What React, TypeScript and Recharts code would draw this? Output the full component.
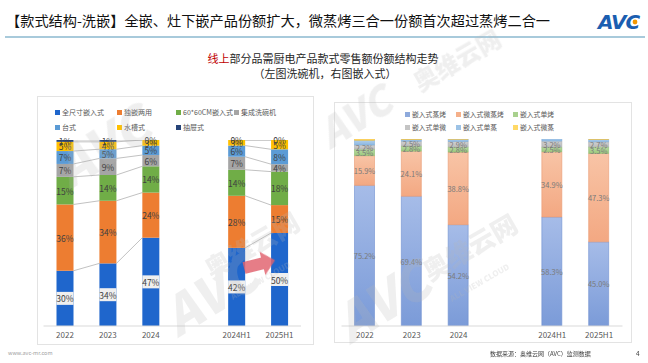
import React from "react";
import { BarChart, Bar, XAxis, YAxis, LabelList, Legend } from "recharts";

// ---------- data ----------
const categories = ["2022", "2023", "2024", "", "2024H1", "2025H1"];

// Left chart: dishwasher styles (bottom -> top)
const leftSeriesNames = ["全尺寸嵌入式", "独嵌两用", "60*60CM嵌入式", "集成洗碗机", "台式", "水槽式", "抽屉式"];
const leftColors = ["#1F66CC", "#ED7D31", "#70AD47", "#A5A5A5", "#5B9BD5", "#FFC000", "#264478"];
const fullSizeShare = [30, 34, 47, null, 42, 50];
const dualUseShare = [36, 34, 24, null, 28, 15];
const size6060Share = [15, 14, 14, null, 14, 18];
const integratedShare = [7, 9, 6, null, 7, 4];
const countertopShare = [7, 5, 5, null, 6, 8];
const sinkShare = [5, 4, 3, null, 3, 5];
const drawerShare = [1, 1, 0, null, 0, 0];

// Right chart: built-in styles (bottom -> top)
const rightSeriesNames = ["嵌入式蒸烤", "嵌入式微蒸烤", "嵌入式单烤", "嵌入式单微", "嵌入式单蒸", "嵌入式微蒸"];
const rightColors = ["#8EAADC", "#F5B08A", "#A9D18E", "#C4C4C4", "#9DC3E6", "#FFD966"];
const rightGradTop = ["#A6BCE8", "#F8C4A6", "#B8DAA0", "#D0D0D0", "#AECDEA", "#FFE08A"];
const rightGradBottom = ["#7B9BD8", "#F3A882", "#9CC97E", "#BDBDBD", "#8EB9E2", "#FFD24D"];
const rightStroke = ["#6E8FD0", "#E99A72", "#8DBB70", "#AFAFAF", "#7FAEDB", "#F0C040"];
const steamBakeShare = [75.2, 69.4, 54.2, null, 58.3, 45.0];
const microSteamBakeShare = [15.9, 24.1, 38.8, null, 34.9, 47.3];
const singleBakeShare = [3.5, 2.8, 2.8, null, 2.5, 3.5];
const singleMicroShare = [2.2, 2.5, 2.9, null, 3.2, 2.7];
const singleSteamShare = [2.5, 1.0, 1.2, null, 1.1, 1.3];
const microSteamShare = [0.7, 0.2, 0.1, null, 0.0, 0.2];

const leftValues = [fullSizeShare, dualUseShare, size6060Share, integratedShare, countertopShare, sinkShare, drawerShare];
const rightValues = [steamBakeShare, microSteamBakeShare, singleBakeShare, singleMicroShare, singleSteamShare, microSteamShare];

// ---------- table building ----------
function buildRows(values: (number | null)[][]) {
  return categories.map((name, i) => {
    const row: any = { name };
    if (name === "") return row;
    const total = values.reduce((s, arr) => s + (arr[i] ?? 0), 0);
    values.forEach((arr, k) => {
      row["s" + k] = ((arr[i] ?? 0) / total) * 100;
      row["l" + k] = arr[i];
    });
    return row;
  });
}
const leftRows = buildRows(leftValues);
const rightRows = buildRows(rightValues);

// cumulative tops (normalized) for series lines
const leftCum = leftValues.map((_, k) =>
  leftRows.map((r) => {
    if (r.name === "") return 0;
    let s = 0;
    for (let j = 0; j <= k; j++) s += r["s" + j];
    return s;
  })
);

// ---------- layout ----------
const FONT = '"Noto Sans CJK SC", "Noto Sans", sans-serif';

const L_BOX = { left: 37, top: 96, width: 277, height: 249 };
const L_MARGIN = { top: 44, right: 13, left: 6.5, bottom: 3 };
const L_XAXIS_H = 16;
const L_PLOT_W = L_BOX.width - L_MARGIN.left - L_MARGIN.right;
const L_PLOT_H = L_BOX.height - L_MARGIN.top - L_MARGIN.bottom - L_XAXIS_H;
const L_STEP = L_PLOT_W / categories.length;
const L_PPU = L_PLOT_H / 100;

const R_BOX = { left: 334, top: 102, width: 298, height: 241 };
const R_MARGIN = { top: 37, right: 9.5, left: 7.5, bottom: 2 };
const R_XAXIS_H = 15;

// ---------- custom renderers ----------
const leftShape = (k: number) => (props: any) => {
  const { x, y, width, height, fill } = props;
  let idx = props.index;
  if (idx == null && props.payload) idx = categories.indexOf(props.payload.name);
  if (x == null || y == null || isNaN(x) || isNaN(y) || categories[idx] === "") return <g />;
  const nextOk = idx + 1 < categories.length && categories[idx + 1] !== "";
  let line = null;
  if (nextOk) {
    const dy = (leftCum[k][idx] - leftCum[k][idx + 1]) * L_PPU;
    line = (
      <line x1={x + width} y1={y} x2={x + L_STEP} y2={y + dy} stroke="#A6A6A6" strokeWidth={0.7} />
    );
  }
  return (
    <g>
      <rect x={x} y={y} width={width} height={Math.max(0, height || 0)} fill={fill} />
      {line}
    </g>
  );
};

const leftLabel = (k: number) => (props: any) => {
  const vb = props.viewBox || props;
  const { x, y, width, height } = vb;
  const v = props.value;
  if (v == null || x == null || isNaN(x)) return null;
  const cx = x + width / 2;
  const cy = y + height / 2;
  return (
    <g>
      {k === 0 && <rect x={x} y={cy - 6.5} width={width} height={13} fill="#EFEFEF" />}
      <text x={cx} y={cy} textAnchor="middle" dominantBaseline="central" fontSize={8.5} fill="#404040" fontFamily={FONT}>
        {`${v}%`}
      </text>
    </g>
  );
};

const rightLabel = (props: any) => {
  const vb = props.viewBox || props;
  const { x, y, width, height } = vb;
  const v = props.value;
  if (v == null || x == null || isNaN(x)) return null;
  return (
    <text x={x + width / 2} y={y + height / 2} textAnchor="middle" dominantBaseline="central" fontSize={7.5} fill="#7A7A7A" fontFamily={FONT}>
      {`${Number(v).toFixed(1)}%`}
    </text>
  );
};

const LegendGrid = ({ names, colors, cols, colX, rowY, fontSize }: any) => (
  <div style={{ position: "relative", width: "100%", height: "100%", fontFamily: FONT }}>
    {names.map((n: string, k: number) => {
      const c = k % cols;
      const r = Math.floor(k / cols);
      return (
        <div
          key={n}
          style={{
            position: "absolute",
            left: colX[c],
            top: rowY[r] - 6,
            height: 12,
            display: "flex",
            alignItems: "center",
            whiteSpace: "nowrap",
            fontSize,
            color: "#595959",
          }}
        >
          <span style={{ display: "inline-block", width: 5, height: 5, background: colors[k], marginRight: 2 }} />
          {n}
        </div>
      );
    })}
  </div>
);

const Watermark = () => (
  <svg width={648} height={363} style={{ position: "absolute", left: 0, top: 0, pointerEvents: "none" }}>
    <g fill="#B8B8B8" opacity={0.22} fontFamily={FONT} fontWeight={900}>
      <text x={0} y={0} fontSize={52} fontStyle="italic" transform="translate(70,190) rotate(-32)">AVC</text>
      <text x={0} y={0} fontSize={52} fontStyle="italic" transform="translate(178,338) rotate(-32)">AVC</text>
      <text x={0} y={0} fontSize={26} transform="translate(212,280) rotate(-30)">奥维云网</text>
      <text x={0} y={0} fontSize={8} transform="translate(233,300) rotate(-30)">ALL VIEW CLOUD</text>
      <text x={0} y={0} fontSize={52} fontStyle="italic" transform="translate(350,345) rotate(-32)">AVC</text>
      <text x={0} y={0} fontSize={26} transform="translate(430,282) rotate(-30)">奥维云网</text>
      <text x={0} y={0} fontSize={8} transform="translate(452,302) rotate(-30)">ALL VIEW CLOUD</text>
      <text x={0} y={0} fontSize={24} transform="translate(420,92) rotate(-30)">奥维云网</text>
      <text x={0} y={0} fontSize={40} fontStyle="italic" transform="translate(330,150) rotate(-32)">AVC</text>
    </g>
    <g transform="translate(244,268) rotate(-14)">
      <polygon points="0,-6 19,-6 19,-12 32,0 19,12 19,6 0,6" fill="#E0606C" opacity={0.82} />
    </g>
  </svg>
);

export default function App() {
  return (
    <div style={{ position: "absolute", left: 0, top: 0, width: 648, height: 363, background: "#fff", fontFamily: FONT, overflow: "hidden" }}>
      {/* header */}
      <div style={{ position: "absolute", left: 6, top: 11, fontSize: 14.2, lineHeight: "18px", color: "#111", whiteSpace: "nowrap" }}>
        【款式结构-洗嵌】全嵌、灶下嵌产品份额扩大，微蒸烤三合一份额首次超过蒸烤二合一
      </div>
      <svg width={60} height={30} style={{ position: "absolute", left: 590, top: 6 }}>
        <text x={8} y={23} fontSize={20} fontWeight={900} fontStyle="italic" fill="#1B5EB0" fontFamily="DejaVu Sans" letterSpacing={-1}>AVC</text>
        <circle cx={45} cy={16} r={2.4} fill="#F39800" />
      </svg>
      <div style={{ position: "absolute", left: 5, top: 36, width: 640, height: 1.5, background: "#A8CADB" }} />
      <div style={{ position: "absolute", left: 0, top: 51, width: 646, textAlign: "center", fontSize: 11, lineHeight: "14px", color: "#262626" }}>
        <span style={{ color: "#C00000" }}>线上</span>部分品需厨电产品款式零售额份额结构走势
      </div>
      <div style={{ position: "absolute", left: 0, top: 66, width: 650, textAlign: "center", fontSize: 11, lineHeight: "14px", color: "#262626" }}>
        （左图洗碗机，右图嵌入式）
      </div>

      {/* panel borders */}
      <div style={{ position: "absolute", left: L_BOX.left, top: L_BOX.top, width: L_BOX.width, height: L_BOX.height, border: "1px solid #E3E3E3", boxSizing: "border-box" }} />
      <div style={{ position: "absolute", left: R_BOX.left, top: R_BOX.top, width: R_BOX.width, height: R_BOX.height, border: "1px solid #E3E3E3", boxSizing: "border-box" }} />

      {/* gradients */}
      <svg width={0} height={0} style={{ position: "absolute" }}>
        <defs>
          {rightColors.map((_, k) => (
            <linearGradient key={k} id={`rg${k}`} x1="0" y1="0" x2="0" y2="1">
              <stop offset="0%" stopColor={rightGradTop[k]} />
              <stop offset="100%" stopColor={rightGradBottom[k]} />
            </linearGradient>
          ))}
        </defs>
      </svg>

      {/* left chart */}
      <div style={{ position: "absolute", left: L_BOX.left, top: L_BOX.top }}>
        <BarChart width={L_BOX.width} height={L_BOX.height} data={leftRows} margin={L_MARGIN} barSize={17}>
          <XAxis
            dataKey="name"
            height={L_XAXIS_H}
            interval={0}
            tickLine={false}
            tickSize={4}
            tickMargin={2}
            axisLine={{ stroke: "#D9D9D9" }}
            tick={{ fontSize: 8, fill: "#595959", fontFamily: FONT }}
          />
          <YAxis hide domain={[0, 100]} allowDataOverflow />
          <Legend
            layout="horizontal"
            verticalAlign="middle"
            align="center"
            wrapperStyle={{ top: 0, left: 0, width: L_BOX.width, height: 40 }}
            content={() => (
              <LegendGrid names={leftSeriesNames} colors={leftColors} cols={4} colX={[18, 80, 139, 197]} rowY={[16, 31]} fontSize={7} />
            )}
          />
          {leftSeriesNames.map((n, k) => (
            <Bar key={n} dataKey={"s" + k} name={n} stackId="a" fill={leftColors[k]} isAnimationActive={false} shape={leftShape(k)}>
              <LabelList dataKey={"l" + k} content={leftLabel(k)} />
            </Bar>
          ))}
        </BarChart>
      </div>

      {/* right chart */}
      <div style={{ position: "absolute", left: R_BOX.left, top: R_BOX.top }}>
        <BarChart width={R_BOX.width} height={R_BOX.height} data={rightRows} margin={R_MARGIN} barSize={20}>
          <XAxis
            dataKey="name"
            height={R_XAXIS_H}
            interval={0}
            tickLine={false}
            tickSize={4}
            tickMargin={2}
            axisLine={{ stroke: "#D9D9D9" }}
            tick={{ fontSize: 8, fill: "#595959", fontFamily: FONT }}
          />
          <YAxis hide domain={[0, 100]} allowDataOverflow />
          <Legend
            layout="horizontal"
            verticalAlign="middle"
            align="center"
            wrapperStyle={{ top: 0, left: 0, width: R_BOX.width, height: 34 }}
            content={() => (
              <LegendGrid names={rightSeriesNames} colors={rightColors} cols={3} colX={[71, 122, 179]} rowY={[12, 25]} fontSize={6.8} />
            )}
          />
          {rightSeriesNames.map((n, k) => (
            <Bar
              key={n}
              dataKey={"s" + k}
              name={n}
              stackId="b"
              fill={`url(#rg${k})`}
              stroke={rightStroke[k]}
              strokeWidth={0.6}
              isAnimationActive={false}
            >
              {k < 4 && <LabelList dataKey={"l" + k} content={rightLabel} />}
            </Bar>
          ))}
        </BarChart>
      </div>

      <Watermark />

      {/* footer */}
      <div style={{ position: "absolute", left: 8, top: 349, fontSize: 5.5, color: "#A0A0A0", whiteSpace: "nowrap" }}>www.avc-mr.com</div>
      <div style={{ position: "absolute", left: 490, top: 349, fontSize: 6, color: "#404040", whiteSpace: "nowrap" }}>数据来源：奥维云网（AVC）监测数据</div>
      <div style={{ position: "absolute", left: 636, top: 348, fontSize: 6.5, color: "#404040" }}>4</div>
    </div>
  );
}
